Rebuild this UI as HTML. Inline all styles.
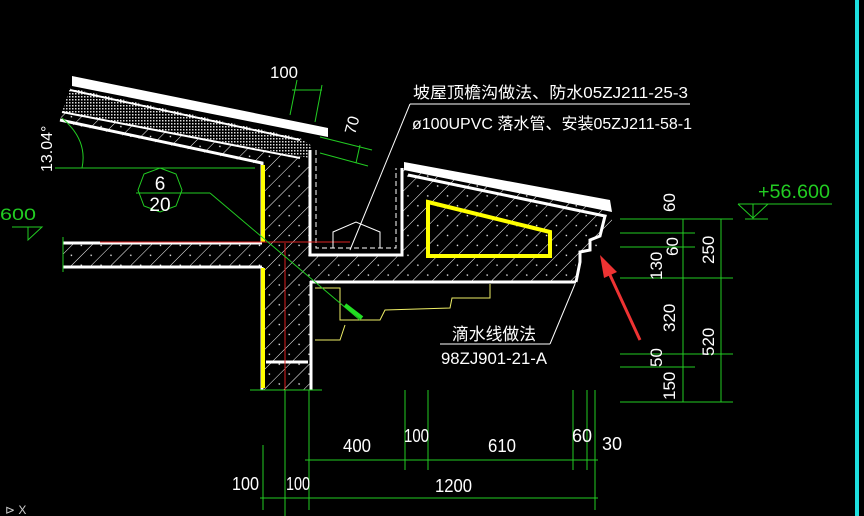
<!DOCTYPE html>
<html><head><meta charset="utf-8"><style>
html,body{margin:0;padding:0;background:#000;}
svg{display:block}
text{font-family:"Liberation Sans","Noto Sans CJK SC",sans-serif;}
</style></head><body>
<svg width="864" height="516" viewBox="0 0 864 516" xmlns="http://www.w3.org/2000/svg">
<defs>
<pattern id="h" width="14" height="14" patternUnits="userSpaceOnUse" patternTransform="rotate(45)">
<rect width="14" height="14" fill="#000"/><line x1="0" y1="0" x2="0" y2="14" stroke="#fff" stroke-width="1"/>
<circle cx="7" cy="4" r="0.8" fill="#fff"/></pattern>
<pattern id="d" width="3" height="3" patternUnits="userSpaceOnUse"><rect width="3" height="3" fill="#000"/><rect width="1.5" height="1.5" fill="#ddd"/></pattern>
</defs>
<rect width="864" height="516" fill="#000"/>
<rect x="855" y="0" width="4" height="516" fill="#1ee0e0"/>

<polygon points="62,112 310,158 310,257 262,257 262,165 60,122" fill="url(#h)"/>
<polygon points="70,88 300,138 312,146 310,158 62,112" fill="url(#d)"/>
<polygon points="72,76 328,128 328,137 72,86" fill="#fff"/>
<line x1="70" y1="90" x2="300" y2="140" stroke="#fff" stroke-width="2"/>
<line x1="62" y1="112" x2="300" y2="158" stroke="#fff" stroke-width="2"/>
<polyline points="60,120 262,163 262,242" fill="none" stroke="#fff" stroke-width="3"/>
<rect x="63" y="243" width="200" height="24" fill="url(#h)"/>
<line x1="63" y1="243" x2="262" y2="243" stroke="#fff" stroke-width="3"/>
<line x1="63" y1="267" x2="262" y2="267" stroke="#fff" stroke-width="3"/>
<rect x="262" y="257" width="48" height="133" fill="url(#h)"/>
<line x1="262" y1="267" x2="262" y2="390" stroke="#fff" stroke-width="3"/>
<line x1="311" y1="281" x2="311" y2="390" stroke="#fff" stroke-width="3"/>
<line x1="266" y1="362" x2="308" y2="362" stroke="#fff" stroke-width="3"/>
<rect x="261" y="165" width="4" height="77" fill="#ff0"/>
<rect x="261" y="268" width="4" height="120" fill="#ff0"/>
<line x1="250" y1="390" x2="322" y2="390" stroke="#2c2" stroke-width="1"/>
<polygon points="310,255 402,255 402,165 612,212 612,232 600,236 600,248 585,252 585,262 576,262 576,282 310,282" fill="url(#h)"/>
<polyline points="310,150 310,255 402,255 402,168" fill="none" stroke="#fff" stroke-width="3"/>
<polyline points="316,150 316,248 396,248 396,168" fill="none" stroke="#fff" stroke-width="1" stroke-dasharray="5,3"/>
<polygon points="404,162 610,200 612,212 404,170" fill="#fff"/>
<polyline points="408,175 605,216 600,236 590,240 590,250 580,252 580,262 576,282" fill="none" stroke="#fff" stroke-width="3"/>
<line x1="310" y1="282" x2="576" y2="282" stroke="#fff" stroke-width="3"/>
<polygon points="428,202 550,232 550,256 428,256" fill="none" stroke="#ff0" stroke-width="4"/>
<line x1="100" y1="242" x2="350" y2="242" stroke="#d22" stroke-width="1"/>
<line x1="285" y1="243" x2="285" y2="400" stroke="#d22" stroke-width="1"/>
<polyline points="333,248 333,232 356,222 380,232 380,248" fill="none" stroke="#fff" stroke-width="1"/>
<polyline points="315,288 340,288 340,320 380,320 385,310 450,308 452,298 490,298 490,284" fill="none" stroke="#ee6" stroke-width="1"/>
<polyline points="315,340 340,340 345,325" fill="none" stroke="#ee6" stroke-width="1"/>
<line x1="410" y1="104" x2="690" y2="104" stroke="#fff" stroke-width="1"/>
<line x1="410" y1="104" x2="350" y2="250" stroke="#fff" stroke-width="1"/>
<text x="413" y="98" fill="#fff" font-size="16" textLength="275" lengthAdjust="spacingAndGlyphs">坡屋顶檐沟做法、防水05ZJ211-25-3</text>
<text x="412" y="129" fill="#fff" font-size="16" textLength="280" lengthAdjust="spacingAndGlyphs">ø100UPVC 落水管、安装05ZJ211-58-1</text>
<line x1="440" y1="344" x2="550" y2="344" stroke="#fff" stroke-width="1"/>
<line x1="550" y1="344" x2="575" y2="284" stroke="#fff" stroke-width="1"/>
<text x="452" y="340" fill="#fff" font-size="17" textLength="84" lengthAdjust="spacingAndGlyphs">滴水线做法</text>
<text x="441" y="364" fill="#fff" font-size="17" textLength="106" lengthAdjust="spacingAndGlyphs">98ZJ901-21-A</text>
<polygon points="160,168 176,174 182,190 176,206 160,212 144,206 138,190 144,174" fill="none" stroke="#2c2" stroke-width="1"/>
<line x1="136" y1="193" x2="210" y2="193" stroke="#2c2" stroke-width="1"/>
<line x1="210" y1="193" x2="360" y2="320" stroke="#2c2" stroke-width="1"/>
<line x1="345" y1="305" x2="362" y2="318" stroke="#2d2" stroke-width="4"/>
<text x="160" y="190" fill="#fff" font-size="19" text-anchor="middle">6</text>
<text x="160" y="211" fill="#fff" font-size="19" text-anchor="middle">20</text>
<line x1="55" y1="168" x2="255" y2="168" stroke="#2c2" stroke-width="1"/>
<path d="M62,118 Q88,140 82,168" fill="none" stroke="#2c2" stroke-width="1"/>
<text transform="translate(52,172) rotate(-90)" fill="#fff" font-size="16">13.04°</text>
<line x1="292" y1="90" x2="322" y2="90" stroke="#2c2"/>
<line x1="297" y1="80" x2="290" y2="115" stroke="#2c2"/>
<line x1="322" y1="85" x2="315" y2="122" stroke="#2c2"/>
<text x="270" y="78" fill="#fff" font-size="17" textLength="28" lengthAdjust="spacingAndGlyphs">100</text>
<line x1="320" y1="137" x2="372" y2="150" stroke="#2c2"/>
<line x1="320" y1="153" x2="368" y2="166" stroke="#2c2"/>
<line x1="360" y1="145" x2="356" y2="163" stroke="#2c2"/>
<text transform="translate(355,135) rotate(-75)" fill="#fff" font-size="16">70</text>
<text x="0" y="220" fill="#2c2" font-size="17" textLength="36" lengthAdjust="spacingAndGlyphs">600</text>
<polyline points="12,227 42,227 28,240 28,227" fill="none" stroke="#2c2"/>
<line x1="63" y1="237" x2="63" y2="272" stroke="#2c2"/>
<g stroke="#2c2" stroke-width="1">
<line x1="683" y1="219" x2="683" y2="402"/><line x1="721" y1="219" x2="721" y2="402"/>
<line x1="620" y1="219" x2="733" y2="219"/><line x1="620" y1="233" x2="695" y2="233"/>
<line x1="620" y1="247" x2="695" y2="247"/><line x1="620" y1="278" x2="733" y2="278"/>
<line x1="620" y1="354" x2="733" y2="354"/><line x1="620" y1="367" x2="695" y2="367"/>
<line x1="620" y1="402" x2="733" y2="402"/>
<line x1="738" y1="204" x2="832" y2="204"/>
<polyline points="738,204 768,204 753,218 738,204" fill="none"/>
<line x1="753" y1="204" x2="753" y2="219"/><line x1="745" y1="219" x2="768" y2="219"/>
</g>
<text x="758" y="198" fill="#2c2" font-size="19" textLength="72" lengthAdjust="spacingAndGlyphs">+56.600</text>
<g fill="#fff" font-size="17">
<text transform="translate(675,212) rotate(-90)">60</text>
<text transform="translate(678,256) rotate(-90)">60</text>
<text transform="translate(662,280) rotate(-90)">130</text>
<text transform="translate(714,264) rotate(-90)">250</text>
<text transform="translate(675,332) rotate(-90)">320</text>
<text transform="translate(714,356) rotate(-90)">520</text>
<text transform="translate(662,367) rotate(-90)">50</text>
<text transform="translate(675,400) rotate(-90)">150</text>
</g>
<g stroke="#2c2" stroke-width="1">
<line x1="305" y1="460" x2="598" y2="460"/>
<line x1="260" y1="498" x2="598" y2="498"/>
<line x1="263" y1="445" x2="263" y2="510"/><line x1="285" y1="390" x2="285" y2="516"/>
<line x1="309" y1="390" x2="309" y2="510"/>
<line x1="405" y1="390" x2="405" y2="470"/><line x1="428" y1="390" x2="428" y2="470"/>
<line x1="573" y1="390" x2="573" y2="470"/><line x1="587" y1="390" x2="587" y2="470"/>
<line x1="595" y1="390" x2="595" y2="510"/>
</g>
<g fill="#fff" font-size="18">
<text x="343" y="452" textLength="28" lengthAdjust="spacingAndGlyphs">400</text>
<text x="404" y="442" textLength="25" lengthAdjust="spacingAndGlyphs">100</text>
<text x="488" y="452" textLength="28" lengthAdjust="spacingAndGlyphs">610</text>
<text x="572" y="442">60</text><text x="602" y="450">30</text>
<text x="232" y="490" textLength="27" lengthAdjust="spacingAndGlyphs">100</text>
<text x="286" y="490" textLength="24" lengthAdjust="spacingAndGlyphs">100</text>
<text x="435" y="492" textLength="37" lengthAdjust="spacingAndGlyphs">1200</text>
</g>
<text x="5" y="514" fill="#ccc" font-size="12">⊳ X</text>
<line x1="640" y1="340" x2="610" y2="275" stroke="#e33" stroke-width="3"/>
<polygon points="600,255 617,272 604,278" fill="#e33"/>
</svg>
</body></html>
